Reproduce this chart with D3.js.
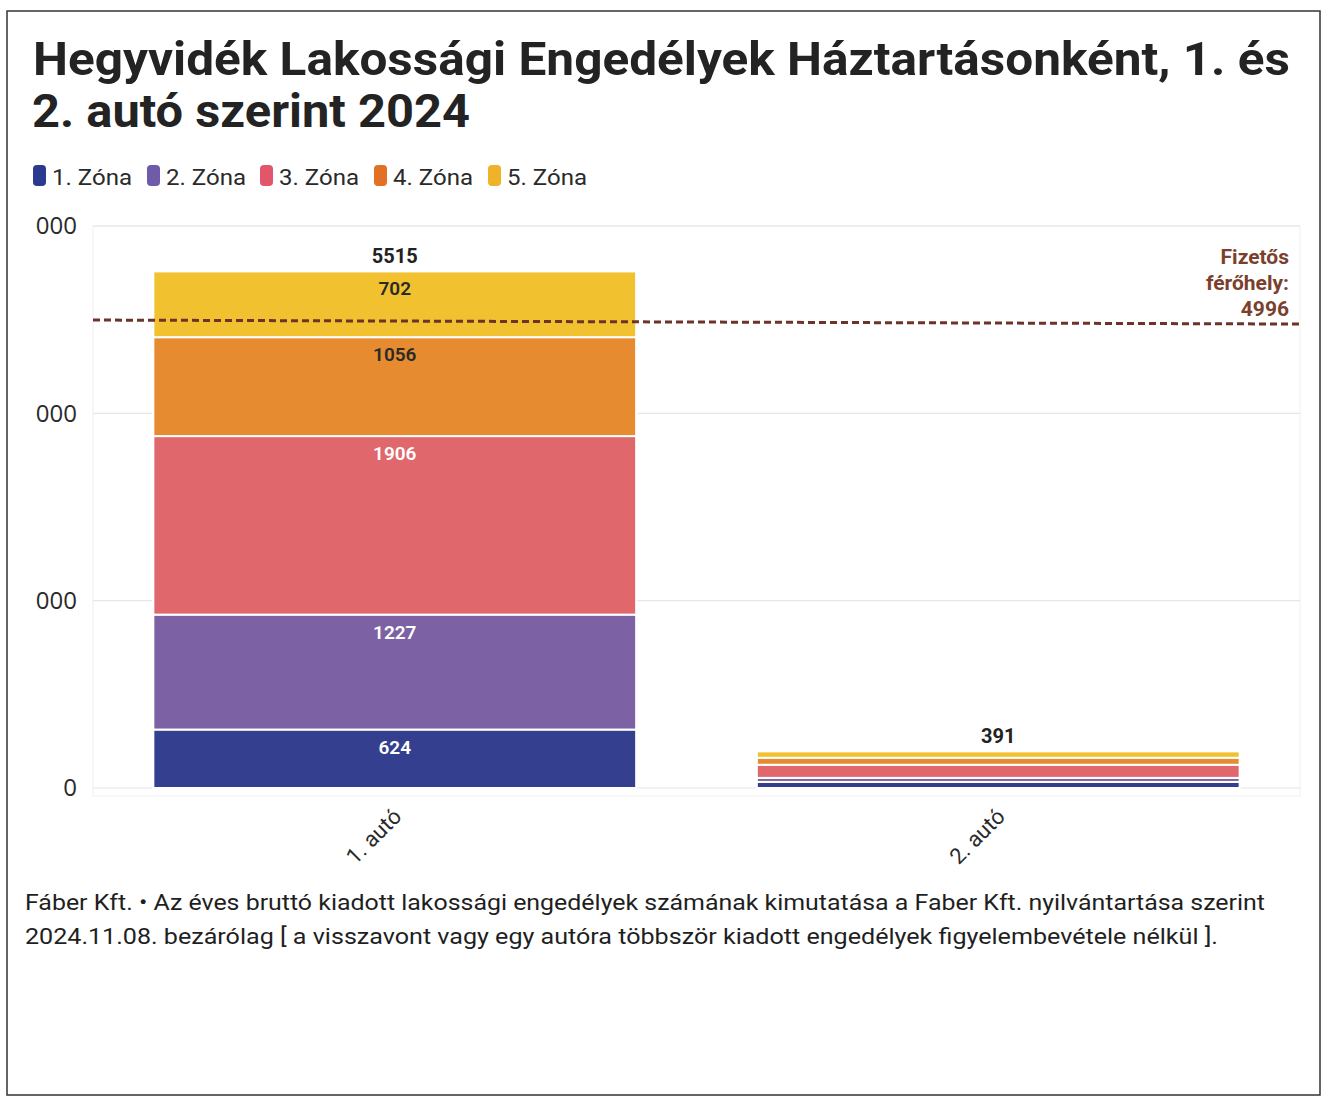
<!DOCTYPE html>
<html><head><meta charset="utf-8">
<script src="https://cdn.jsdelivr.net/npm/d3@7"></script>
<style>body{margin:0;background:#fff}svg{display:block}</style>
</head><body>
<svg id="c" width="1322" height="1098"></svg>
<script>
const categories = ["1. autó", "2. autó"];
const zones = ["1. Zóna", "2. Zóna", "3. Zóna", "4. Zóna", "5. Zóna"];
const zone1 = [624, 65];
const zone2 = [1227, 43];
const zone3 = [1906, 140];
const zone4 = [1056, 75];
const zone5 = [702, 68];
const totals = [5515, 391];
const yTicks = [0, 2000, 4000, 6000];
const yTickLabels = ["0", "000", "000", "000"];
const refValue = 4996;
const refLabel = ["Fizetős", "férőhely:", "4996"];
const colors = ["#34408f", "#7c62a4", "#e0686d", "#e68b2f", "#f1c12f"];
const legendColors = ["#2b3a8e", "#6f5ba8", "#e2566a", "#e27124", "#efb32a"];
const labelColors = ["#fff", "#fff", "#fff", "#2a2a2a", "#2a2a2a"];

(function () {
const svg = d3.select("#c");
const font = "Roboto, 'Liberation Sans', sans-serif";

// scanned frame
svg.append("rect").attr("x", 7).attr("y", 11).attr("width", 1313).attr("height", 1084)
  .attr("fill", "none").attr("stroke", "#333").attr("stroke-width", 1.5);

// title
svg.append("text").attr("x", 33).attr("y", 75).attr("font-family", font).attr("font-weight", 700)
  .attr("font-size", 47).attr("fill", "#232323").attr("textLength", 1257).attr("lengthAdjust", "spacingAndGlyphs")
  .text("Hegyvidék Lakossági Engedélyek Háztartásonként, 1. és");
svg.append("text").attr("x", 32).attr("y", 127).attr("font-family", font).attr("font-weight", 700)
  .attr("font-size", 47).attr("fill", "#232323").attr("textLength", 438).attr("lengthAdjust", "spacingAndGlyphs")
  .text("2. autó szerint 2024");

// legend
const legX = [33, 147, 260, 374, 488];
zones.forEach((z, i) => {
  svg.append("rect").attr("x", legX[i]).attr("y", 165).attr("width", 13).attr("height", 21).attr("rx", 4)
    .attr("fill", legendColors[i]);
  svg.append("text").attr("x", legX[i] + 19).attr("y", 185).attr("font-family", font)
    .attr("font-size", 22).attr("fill", "#2a2a2a").attr("textLength", 80).attr("lengthAdjust", "spacingAndGlyphs").text(z);
});

// scales
const pLeft = 93, pRight = 1300, pTop = 226, pBottom = 788;
const x = d3.scaleBand().domain(categories).range([pLeft, pRight]).paddingInner(0.2).paddingOuter(0.1);
const y = d3.scaleLinear().domain([0, 6000]).range([pBottom, pTop]);

// plot frame & grid
svg.append("rect").attr("x", pLeft).attr("y", pTop).attr("width", pRight - pLeft).attr("height", pBottom - pTop + 8)
  .attr("fill", "none").attr("stroke", "#f0f0f0");
svg.append("g").selectAll("line").data(yTicks).join("line")
  .attr("x1", pLeft).attr("x2", pRight).attr("y1", d => y(d)).attr("y2", d => y(d))
  .attr("stroke", "#e6e6e6").attr("stroke-width", 1.2);

// y axis
const yAxis = d3.axisLeft(y).tickValues(yTicks).tickFormat((d, i) => yTickLabels[i]).tickSize(0).tickPadding(0);
const gy = svg.append("g").attr("transform", `translate(77,0)`).call(yAxis);
gy.select(".domain").remove();
gy.selectAll("text").attr("font-family", "'Open Sans', sans-serif").attr("font-size", 24).attr("fill", "#2a2a2a");

// stacked data
const rows = categories.map((c, i) => ({cat: c, "1. Zóna": zone1[i], "2. Zóna": zone2[i], "3. Zóna": zone3[i], "4. Zóna": zone4[i], "5. Zóna": zone5[i]}));
const series = d3.stack().keys(zones)(rows);

series.forEach((s, si) => {
  const g = svg.append("g");
  g.selectAll("rect").data(s).join("rect")
    .attr("x", d => x(d.data.cat)).attr("width", x.bandwidth())
    .attr("y", d => y(d[1])).attr("height", d => y(d[0]) - y(d[1]))
    .attr("fill", colors[si]).attr("stroke", "#fff").attr("stroke-width", 2);
  g.selectAll("text").data(s.filter(d => d.data.cat === categories[0])).join("text")
    .attr("x", d => x(d.data.cat) + x.bandwidth() / 2).attr("y", d => y(d[1]) + 24)
    .attr("text-anchor", "middle").attr("font-family", font).attr("font-weight", 600).attr("font-size", 19)
    .attr("fill", labelColors[si]).text(d => d[1] - d[0]);
});

// totals
svg.append("g").selectAll("text").data(categories).join("text")
  .attr("x", d => x(d) + x.bandwidth() / 2).attr("y", (d, i) => y(totals[i]) - 8)
  .attr("text-anchor", "middle").attr("font-family", font).attr("font-weight", 700).attr("font-size", 20)
  .attr("fill", "#222").text((d, i) => totals[i]);

// reference line
svg.append("line").attr("x1", pLeft).attr("x2", pRight).attr("y1", y(refValue)).attr("y2", y(refValue) + 4)
  .attr("stroke", "#6e3328").attr("stroke-width", 3).attr("stroke-dasharray", "7,4");
refLabel.forEach((t, i) => {
  svg.append("text").attr("x", 1289).attr("y", 264 + i * 26).attr("text-anchor", "end")
    .attr("font-family", font).attr("font-weight", 700).attr("font-size", 21).attr("fill", "#7b3f2e").text(t);
});

// x axis labels
svg.append("g").selectAll("text").data(categories).join("text")
  .attr("transform", d => `translate(${x(d) + x.bandwidth() / 2 + 8},${818}) rotate(-45)`)
  .attr("text-anchor", "end").attr("font-family", font).attr("font-size", 22).attr("fill", "#2a2a2a").text(d => d);

// footer
svg.append("text").attr("x", 25).attr("y", 910).attr("font-family", font).attr("font-size", 22).attr("fill", "#1f1f1f")
  .attr("textLength", 1240).attr("lengthAdjust", "spacingAndGlyphs")
  .text("Fáber Kft. • Az éves bruttó kiadott lakossági engedélyek számának kimutatása a Faber Kft. nyilvántartása szerint");
svg.append("text").attr("x", 25).attr("y", 944).attr("font-family", font).attr("font-size", 22).attr("fill", "#1f1f1f")
  .attr("textLength", 1193).attr("lengthAdjust", "spacingAndGlyphs")
  .text("2024.11.08. bezárólag [ a visszavont vagy egy autóra többször kiadott engedélyek figyelembevétele nélkül ].");
})();
</script>
</body></html>
